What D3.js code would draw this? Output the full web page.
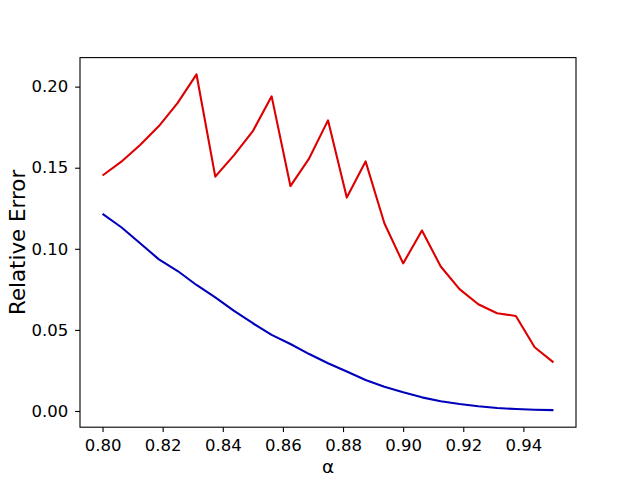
<!DOCTYPE html>
<html>
<head>
<meta charset="utf-8">
<script src="https://cdn.jsdelivr.net/npm/d3@7"></script>
<style>
  html, body { margin: 0; padding: 0; background: #fff; }
  svg { display: block; }
  text { font-family: "DejaVu Sans", sans-serif; fill: #000; }
</style>
</head>
<body>
<svg id="chart" width="640" height="480"></svg>
<script>
const alphaValues = [0.8, 0.80625, 0.8125, 0.81875, 0.825, 0.83125, 0.8375, 0.84375, 0.85, 0.85625,
  0.8625, 0.86875, 0.875, 0.88125, 0.8875, 0.89375, 0.9, 0.90625, 0.9125, 0.91875,
  0.925, 0.93125, 0.9375, 0.94375, 0.95];
const redSeries = [0.1452, 0.1537, 0.1640, 0.1757, 0.1900, 0.2076, 0.1445, 0.1578, 0.1726, 0.1940,
  0.1387, 0.1558, 0.1792, 0.1316, 0.1539, 0.1158, 0.0910, 0.1113, 0.0891, 0.0751,
  0.0658, 0.0603, 0.0586, 0.0393, 0.0300];
const blueSeries = [0.1215, 0.1133, 0.1034, 0.0935, 0.0863, 0.0777, 0.0701, 0.0617, 0.0541, 0.0469,
  0.0413, 0.0351, 0.0294, 0.0243, 0.0191, 0.0150, 0.0115, 0.0084, 0.0060, 0.0043,
  0.0029, 0.0018, 0.0012, 0.0008, 0.0005];
const xTicks = [0.80, 0.82, 0.84, 0.86, 0.88, 0.90, 0.92, 0.94];
const yTicks = [0.00, 0.05, 0.10, 0.15, 0.20];
const xLabel = "α";
const yLabel = "Relative Error";

const svg = d3.select("#chart");
const W = 640, H = 480;
const mLeft = 80, mRight = 576, mTop = 57.6, mBottom = 427.2;

const x = d3.scaleLinear().domain([0.7925, 0.9575]).range([mLeft, mRight]);
const y = d3.scaleLinear().domain([-0.0100, 0.2179]).range([mBottom, mTop]);

svg.append("rect").attr("width", W).attr("height", H).attr("fill", "#fff");

const line = d3.line().x((d, i) => x(alphaValues[i])).y(d => y(d));

svg.append("path").datum(redSeries)
  .attr("d", line).attr("fill", "none")
  .attr("stroke", "#dd0000").attr("stroke-width", 2.1)
  .attr("stroke-linejoin", "round");
svg.append("path").datum(blueSeries)
  .attr("d", line).attr("fill", "none")
  .attr("stroke", "#0000bb").attr("stroke-width", 2.1)
  .attr("stroke-linejoin", "round");

svg.append("rect")
  .attr("x", mLeft).attr("y", mTop)
  .attr("width", mRight - mLeft).attr("height", mBottom - mTop)
  .attr("fill", "none").attr("stroke", "#000").attr("stroke-width", 1.1);

const xAxis = d3.axisBottom(x).tickValues(xTicks).tickFormat(d3.format(".2f"))
  .tickSize(4.9).tickPadding(7);
const gx = svg.append("g").attr("transform", `translate(0,${mBottom})`).call(xAxis);
gx.select(".domain").remove();
gx.selectAll(".tick line").attr("stroke", "#000").attr("stroke-width", 1.1);
gx.selectAll(".tick text").attr("font-family", "DejaVu Sans").attr("font-size", 16.5).attr("fill", "#000");

const yAxis = d3.axisLeft(y).tickValues(yTicks).tickFormat(d3.format(".2f"))
  .tickSize(4.9).tickPadding(6.8);
const gy = svg.append("g").attr("transform", `translate(${mLeft},0)`).call(yAxis);
gy.select(".domain").remove();
gy.selectAll(".tick line").attr("stroke", "#000").attr("stroke-width", 1.1);
gy.selectAll(".tick text").attr("font-family", "DejaVu Sans").attr("font-size", 16.5).attr("fill", "#000");

svg.append("text")
  .attr("x", (mLeft + mRight) / 2).attr("y", 473)
  .attr("text-anchor", "middle")
  .attr("font-size", 18.5).text(xLabel);

svg.append("text")
  .attr("transform", `translate(25,${(mTop + mBottom) / 2}) rotate(-90)`)
  .attr("text-anchor", "middle")
  .attr("font-size", 21.4).text(yLabel);
</script>
</body>
</html>
